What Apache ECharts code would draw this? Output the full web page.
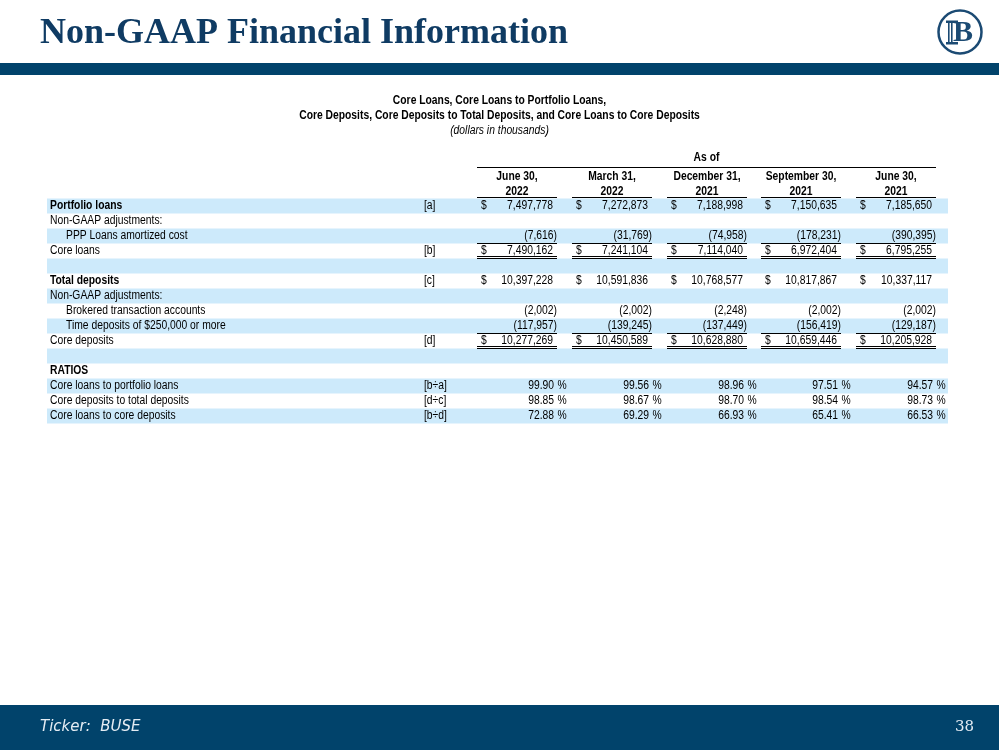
<!DOCTYPE html>
<html><head><meta charset="utf-8">
<script src="https://cdn.jsdelivr.net/npm/echarts@6/dist/echarts.min.js"></script>
<style>html,body{margin:0;padding:0;background:#fff}#c{width:999px;height:750px}</style>
</head><body><div id="c"></div>
<script>
// ---------- data ----------
const periodMonths = ['June 30,', 'March 31,', 'December 31,', 'September 30,', 'June 30,'];
const periodYears = ['2022', '2022', '2021', '2021', '2021'];

const portfolioLoans = [7497778, 7272873, 7188998, 7150635, 7185650];
const pppLoans = [-7616, -31769, -74958, -178231, -390395];
const coreLoans = [7490162, 7241104, 7114040, 6972404, 6795255];
const totalDeposits = [10397228, 10591836, 10768577, 10817867, 10337117];
const brokeredAccounts = [-2002, -2002, -2248, -2002, -2002];
const timeDeposits = [-117957, -139245, -137449, -156419, -129187];
const coreDeposits = [10277269, 10450589, 10628880, 10659446, 10205928];
const coreLoansToPortfolio = [99.90, 99.56, 98.96, 97.51, 94.57];
const coreDepositsToTotal = [98.85, 98.67, 98.70, 98.54, 98.73];
const coreLoansToCoreDeposits = [72.88, 69.29, 66.93, 65.41, 66.53];

const rowLabels = ['Portfolio loans', 'Non-GAAP adjustments:', 'PPP Loans amortized cost', 'Core loans', '',
  'Total deposits', 'Non-GAAP adjustments:', 'Brokered transaction accounts', 'Time deposits of $250,000 or more',
  'Core deposits', '', 'RATIOS', 'Core loans to portfolio loans', 'Core deposits to total deposits', 'Core loans to core deposits'];
const rowRefs = ['[a]', '', '', '[b]', '', '[c]', '', '', '', '[d]', '', '', '[b÷a]', '[d÷c]', '[b÷d]'];
const rowValues = [portfolioLoans, null, pppLoans, coreLoans, null, totalDeposits, null, brokeredAccounts,
  timeDeposits, coreDeposits, null, null, coreLoansToPortfolio, coreDepositsToTotal, coreLoansToCoreDeposits];

// ---------- styles (kept separate from data) ----------
const rowBold = [1,0,0,0,0,1,0,0,0,0,0,1,0,0,0];
const rowIndent = [0,0,1,0,0,0,0,1,1,0,0,0,0,0,0];
const rowFormat = ['dollar','','num','dollar','','dollar','','num','num','dollar','','','pct','pct','pct'];
const rowRule = ['','','single','double','','','','','single','double','','','','',''];

const FONT = "'Liberation Sans Narrow','Liberation Sans',Arial,sans-serif";
const FS = 12;
const NARROW = 0.86;
const STRIPE = '#cdeafb';
const NAVY = '#01436b';
const HEADER_ROWS = 3;
const COL_W = 80;

const rowKeys = ['hAsOf', 'hMonth', 'hYear'].concat(rowLabels.map((l, i) => 'r' + i));
const periodKeys = periodMonths.map((m, i) => m + ' ' + periodYears[i]);

function fmtNum(v) {
  const s = Math.abs(v).toLocaleString('en-US');
  return v < 0 ? '(' + s + ')' : s;
}
function crisp(y) { return Math.round(y - 0.5) + 0.5; }

const labelData = rowLabels.map((l, i) => [0, i + HEADER_ROWS, i]);
const cellData = [];
rowValues.forEach((arr, r) => {
  if (!arr) return;
  arr.forEach((v, c) => cellData.push([c, r + HEADER_ROWS, v, r]));
});
const headerData = periodKeys.map((k, c) => [c, 1, c]);

function txt(x, y, text, opts) {
  opts = opts || {};
  return {
    type: 'text', silent: true, x: x, y: y, scaleX: NARROW,
    style: {
      x: 0, y: 0, text: text, fill: '#000',
      fontFamily: FONT, fontSize: opts.size || FS,
      fontWeight: opts.bold ? 'bold' : 'normal',
      fontStyle: opts.italic ? 'italic' : 'normal',
      align: opts.align || 'left', verticalAlign: 'middle'
    }
  };
}
function hline(x1, x2, y) {
  return { type: 'line', silent: true, shape: { x1: x1, y1: y, x2: x2, y2: y }, style: { stroke: '#000', lineWidth: 1 } };
}

const option = {
  animation: false,
  backgroundColor: '#fff',
  grid: [
    { left: 47, top: 153.5, width: 901, height: 270 },
    { left: 477, top: 153.5, width: 474, height: 270 }
  ],
  xAxis: [
    { type: 'category', gridIndex: 0, data: ['label'], show: false },
    { type: 'category', gridIndex: 1, data: periodKeys, show: false }
  ],
  yAxis: [
    { type: 'category', gridIndex: 0, data: rowKeys, inverse: true, show: false },
    { type: 'category', gridIndex: 1, data: rowKeys, inverse: true, show: false }
  ],
  series: [
    {
      type: 'custom', xAxisIndex: 0, yAxisIndex: 0, clip: false, z: 1,
      data: labelData,
      renderItem: function (params, api) {
        const r = api.value(2);
        const c = api.coord([0, api.value(1)]);
        const s = api.size([0, 1]);
        const left = c[0] - s[0] / 2;
        const ch = [];
        if (r % 2 === 0) {
          ch.push({ type: 'rect', silent: true, shape: { x: left, y: c[1] - s[1] / 2, width: s[0], height: s[1] }, style: { fill: STRIPE } });
        }
        if (rowLabels[r]) ch.push(txt(left + (rowIndent[r] ? 19 : 3), c[1], rowLabels[r], { bold: rowBold[r] }));
        if (rowRefs[r]) ch.push(txt(left + 377, c[1], rowRefs[r]));
        return { type: 'group', children: ch };
      }
    },
    {
      type: 'custom', xAxisIndex: 1, yAxisIndex: 1, clip: false, z: 3,
      data: cellData,
      renderItem: function (params, api) {
        const col = api.value(0), row = api.value(1), v = api.value(2), r = api.value(3);
        const c = api.coord([col, row]);
        const s = api.size([1, 1]);
        const x0 = Math.round(c[0] - s[0] / 2);
        const bottom = c[1] + s[1] / 2;
        const ch = [];
        const f = rowFormat[r];
        if (f === 'pct') {
          ch.push(txt(x0 + 77, c[1], v.toFixed(2), { align: 'right' }));
          ch.push(txt(x0 + 80.5, c[1], '%'));
        } else {
          if (f === 'dollar') ch.push(txt(x0 + 4, c[1], '$'));
          if (v < 0) ch.push(txt(x0 + 80, c[1], fmtNum(v), { align: 'right' }));
          else ch.push(txt(x0 + 76, c[1], fmtNum(v), { align: 'right' }));
        }
        if (rowRule[r] === 'single') ch.push(hline(x0, x0 + COL_W, crisp(bottom - 0.5)));
        if (rowRule[r] === 'double') {
          ch.push(hline(x0, x0 + COL_W, crisp(bottom - 2.5)));
          ch.push(hline(x0, x0 + COL_W, crisp(bottom - 0.5)));
        }
        return { type: 'group', children: ch };
      }
    },
    {
      type: 'custom', xAxisIndex: 1, yAxisIndex: 1, clip: false, z: 3,
      data: headerData,
      renderItem: function (params, api) {
        const col = api.value(0);
        const c1 = api.coord([col, 1]);
        const c2 = api.coord([col, 2]);
        const s = api.size([1, 1]);
        const x0 = Math.round(c1[0] - s[0] / 2);
        const ch = [
          txt(x0 + COL_W / 2, c1[1] + 0.5, periodMonths[col], { bold: 1, align: 'center' }),
          txt(x0 + COL_W / 2, c2[1] + 0.5, periodYears[col], { bold: 1, align: 'center' }),
          hline(x0, x0 + COL_W, crisp(c2[1] + s[1] / 2 - 1))
        ];
        if (col === 0) {
          const cA = api.coord([0, 0]);
          const cE = api.coord([periodKeys.length - 1, 0]);
          const xs = x0, xe = Math.round(cE[0] - s[0] / 2) + COL_W;
          ch.push(txt((xs + xe) / 2, cA[1] - 3, 'As of', { bold: 1, align: 'center' }));
          ch.push(hline(xs, xe, crisp(cA[1] + s[1] / 2 - 1.5)));
        }
        return { type: 'group', children: ch };
      }
    }
  ],
  graphic: [
    { type: 'text', x: 40, y: 34, style: { x: 0, y: 0, text: 'Non-GAAP Financial Information', fill: '#0f3b63', font: "bold 36px 'Liberation Serif', serif", verticalAlign: 'middle' } },
    { type: 'rect', shape: { x: 0, y: 63, width: 999, height: 12 }, style: { fill: NAVY } },
    { type: 'circle', shape: { cx: 960, cy: 32, r: 21.5 }, style: { fill: '#fff', stroke: '#1b4a73', lineWidth: 2.5 } },
    { type: 'text', style: { x: 963, y: 33, text: 'B', fill: '#1b4a73', font: "bold 30px 'Liberation Serif', serif", align: 'center', verticalAlign: 'middle' } },
    { type: 'rect', shape: { x: 946, y: 20.5, width: 12, height: 2.5 }, style: { fill: '#1b4a73' } },
    { type: 'rect', shape: { x: 946, y: 42, width: 12, height: 2.5 }, style: { fill: '#1b4a73' } },
    { type: 'rect', shape: { x: 948, y: 23, width: 1.6, height: 19 }, style: { fill: '#1b4a73' } },
    { type: 'rect', shape: { x: 951, y: 23, width: 1.6, height: 19 }, style: { fill: '#1b4a73' } },
    { type: 'text', x: 499.5, y: 101, scaleX: NARROW, style: { x: 0, y: 0, text: 'Core Loans, Core Loans to Portfolio Loans,', fill: '#000', font: 'bold 12px ' + FONT, align: 'center', verticalAlign: 'middle' } },
    { type: 'text', x: 499.5, y: 116, scaleX: NARROW, style: { x: 0, y: 0, text: 'Core Deposits, Core Deposits to Total Deposits, and Core Loans to Core Deposits', fill: '#000', font: 'bold 12px ' + FONT, align: 'center', verticalAlign: 'middle' } },
    { type: 'text', x: 499.5, y: 131, scaleX: NARROW, style: { x: 0, y: 0, text: '(dollars in thousands)', fill: '#000', font: 'italic 12px ' + FONT, align: 'center', verticalAlign: 'middle' } },
    { type: 'rect', shape: { x: 0, y: 705, width: 999, height: 45 }, style: { fill: NAVY } },
    { type: 'text', style: { x: 40, y: 727, text: 'Ticker:  BUSE', fill: '#e4ecf3', font: "italic 15px 'DejaVu Sans', Verdana, sans-serif", verticalAlign: 'middle' } },
    { type: 'text', style: { x: 974, y: 727, text: '38', fill: '#e4ecf3', font: "15px 'DejaVu Serif', Georgia, serif", align: 'right', verticalAlign: 'middle' } }
  ]
};
const chart = echarts.init(document.getElementById('c'), null, { renderer: 'canvas' });
chart.setOption(option);
</script>
</body></html>
